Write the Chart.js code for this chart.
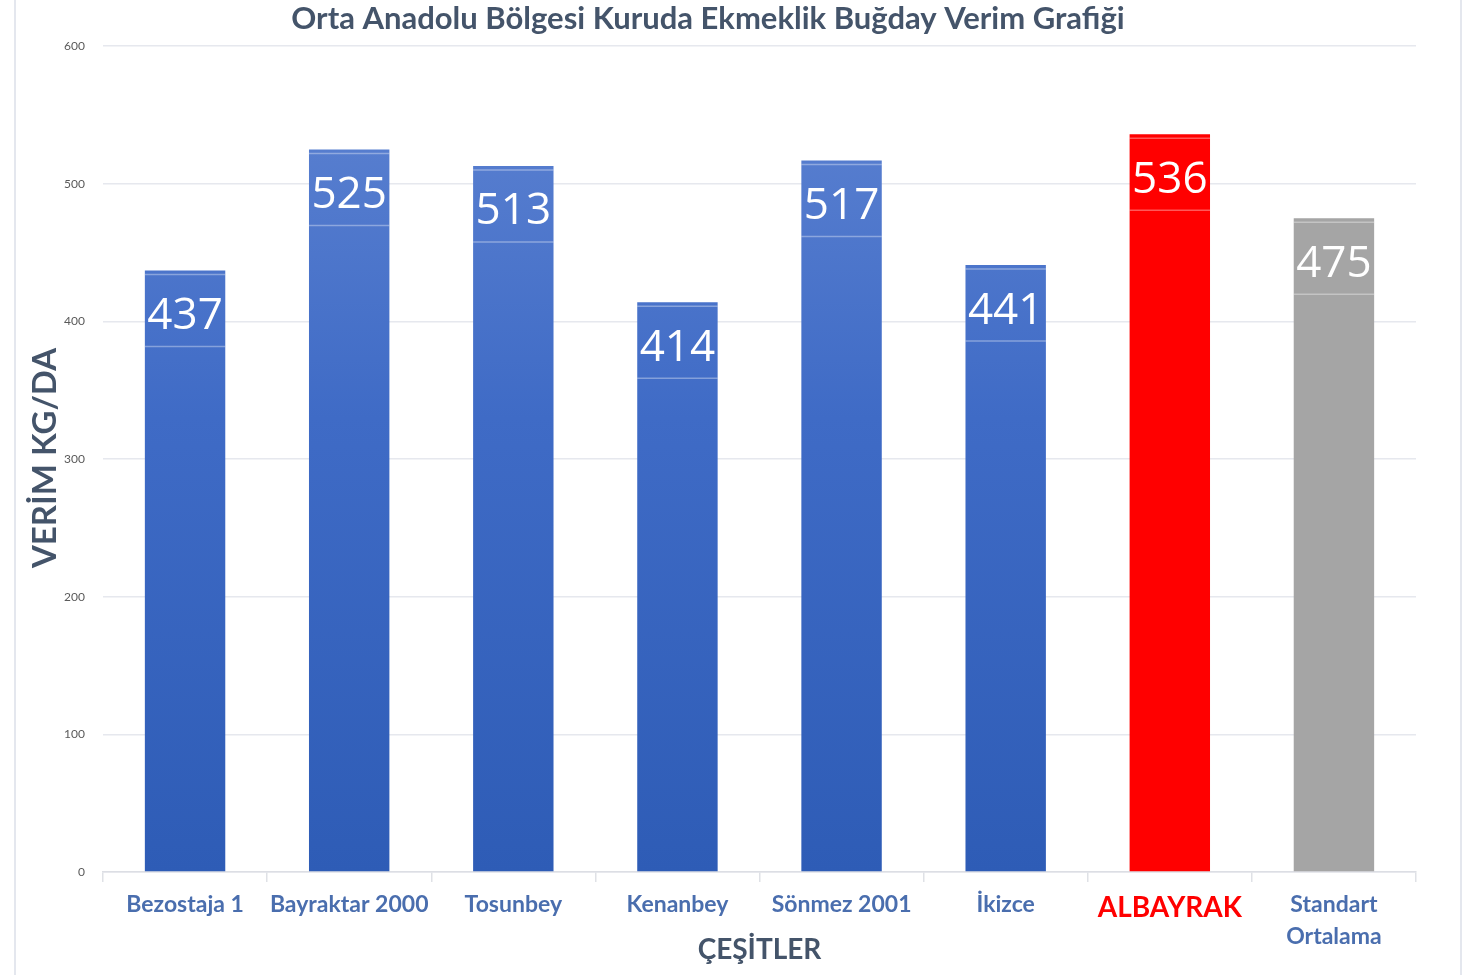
<!DOCTYPE html>
<html>
<head>
<meta charset="utf-8">
<script src="https://cdn.jsdelivr.net/npm/chart.js@4"></script>
<style>
  html, body { margin: 0; padding: 0; background: #fff; }
  #wrap { width: 1477px; height: 975px; position: relative; }
</style>
</head>
<body>
<div id="wrap"><canvas id="myChart" width="1477" height="975"></canvas></div>
<script>
// data
const cesitler = ["Bezostaja 1", "Bayraktar 2000", "Tosunbey", "Kenanbey", "Sönmez 2001", "İkizce", "ALBAYRAK", ["Standart", "Ortalama"]];
const verim = [437, 525, 513, 414, 517, 441, 536, 475];
const yTicks = [0, 100, 200, 300, 400, 500, 600];

const titleText = "Orta Anadolu Bölgesi Kuruda Ekmeklik Buğday Verim Grafiği";
const yTitle = "VERİM KG/DA";
const xTitle = "ÇEŞİTLER";

const dark = '#44546a';
const tickBlue = '#4a6eae';

function barColor(ctx) {
  const i = ctx.dataIndex;
  if (i === 6) return '#ff0000';
  if (i === 7) return '#a5a5a5';
  const area = ctx.chart.chartArea;
  if (!area) return '#4472c4';
  const g = ctx.chart.ctx.createLinearGradient(0, area.bottom, 0, area.top);
  g.addColorStop(0, '#2e5cb6');
  g.addColorStop(0.55, '#3f6bc6');
  g.addColorStop(1, '#5f84d2');
  return g;
}

const ctx = document.getElementById('myChart').getContext('2d');
const myChart = new Chart(ctx, {
  type: 'bar',
  data: {
    labels: cesitler,
    datasets: [{
      data: verim,
      backgroundColor: barColor,
      borderWidth: 0,
      barPercentage: 0.49,
      categoryPercentage: 1
    }]
  },
  options: {
    responsive: false,
    animation: false,
    layout: { padding: { left: 0, right: 61, top: 0, bottom: 0 } },
    plugins: {
      legend: { display: false },
      tooltip: { enabled: false },
      title: {
        display: true,
        text: titleText,
        color: dark,
        font: { family: 'Lato', size: 31, weight: 'bold', lineHeight: 1.2 },
        padding: { top: 0, bottom: 9 }
      }
    },
    scales: {
      y: {
        min: 0,
        max: 600,
        afterFit: s => { s.width = 103; },
        afterBuildTicks: s => { s.ticks = yTicks.map(v => ({ value: v })); },
        ticks: {
          color: '#5a5a5a',
          font: { family: 'Lato', size: 12 },
          padding: 18
        },
        grid: { color: '#e6e8ee', lineWidth: 1.5, drawTicks: false },
        border: { display: false }
      },
      x: {
        afterFit: s => { s.height = 103; },
        grid: { offset: true, drawOnChartArea: false, drawTicks: true, tickLength: 10, color: '#dfe1e6', lineWidth: 1.5 },
        border: { color: '#dcdee4', width: 1.5 },
        ticks: {
          autoSkip: false,
          maxRotation: 0,
          minRotation: 0,
          padding: 6,
          color: c => c.index === 6 ? '#ff0000' : tickBlue,
          font: c => c.index === 6
            ? { family: 'Lato', size: 28, weight: 'bold', lineHeight: 1.4 }
            : { family: 'Lato', size: 23, weight: 'bold', lineHeight: 1.4 }
        },
        title: {
          display: true,
          text: xTitle,
          color: dark,
          font: { family: 'Lato', size: 28, weight: 'bold' },
          padding: { top: 0, bottom: 8 }
        }
      }
    }
  },
  plugins: [
    {
      id: 'valueLabels',
      afterDatasetsDraw: chart => {
        const c = chart.ctx;
        const meta = chart.getDatasetMeta(0);
        c.save();
        meta.data.forEach((bar, i) => {
          const left = bar.x - bar.width / 2;
          c.strokeStyle = 'rgba(255,255,255,0.35)';
          c.lineWidth = 1.5;
          c.beginPath();
          c.moveTo(left, bar.y + 4); c.lineTo(left + bar.width, bar.y + 4);
          c.moveTo(left, bar.y + 76); c.lineTo(left + bar.width, bar.y + 76);
          c.stroke();
          c.fillStyle = '#ffffff';
          c.font = '44px "Open Sans"';
          c.textAlign = 'center';
          c.textBaseline = 'middle';
          c.fillText(String(verim[i]), bar.x, bar.y + 46);
        });
        c.restore();
      }
    },
    {
      id: 'decor',
      beforeDraw: chart => {
        const c = chart.ctx;
        c.save();
        c.fillStyle = '#ffffff';
        c.fillRect(0, 0, chart.width, chart.height);
        c.strokeStyle = '#e4e7ee';
        c.lineWidth = 2;
        c.beginPath();
        c.moveTo(15, 0); c.lineTo(15, chart.height);
        c.moveTo(1461, 0); c.lineTo(1461, chart.height);
        c.stroke();
        c.restore();
      },
      afterDraw: chart => {
        const c = chart.ctx;
        c.save();
        c.translate(45, 458);
        c.rotate(-Math.PI / 2);
        c.fillStyle = dark;
        c.font = 'bold 33px Lato';
        c.textAlign = 'center';
        c.textBaseline = 'middle';
        c.fillText(yTitle, 0, 0);
        c.restore();
      }
    }
  ]
});
</script>
</body>
</html>
